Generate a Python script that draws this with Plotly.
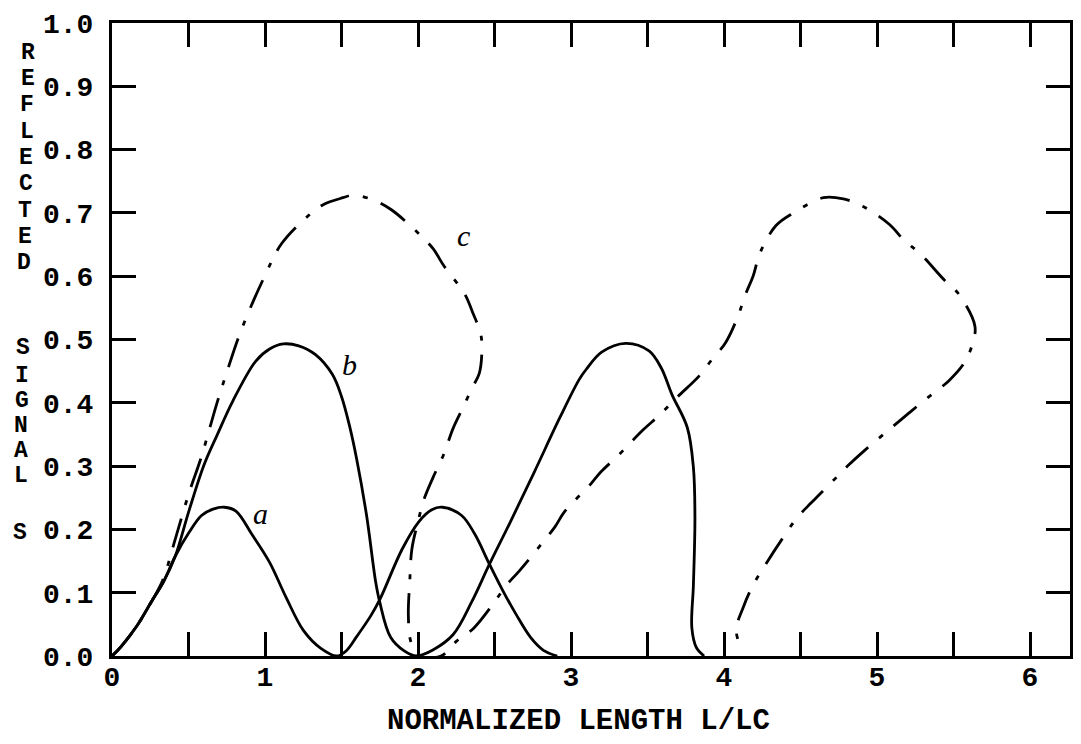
import plotly.graph_objects as go

# ---------------- data ----------------
a_x = [0, 0.058, 0.16, 0.268, 0.332, 0.414, 0.503, 0.585, 0.66, 0.735, 0.81, 0.915, 1.03,
       1.137, 1.252, 1.365, 1.47, 1.53, 1.6, 1.69, 1.75, 1.897, 2.005, 2.09, 2.16, 2.285,
       2.37, 2.467, 2.555, 2.643, 2.737, 2.82, 2.91]
a_y = [0, 0.0145, 0.0465, 0.09, 0.115, 0.158, 0.195, 0.222, 0.232, 0.235, 0.229, 0.192, 0.148,
       0.093, 0.040, 0.012, 0.0, 0.008, 0.031, 0.063, 0.089, 0.169, 0.212, 0.231, 0.235, 0.222,
       0.193, 0.145, 0.103, 0.065, 0.029, 0.009, 0.0]

b_x = [0, 0.058, 0.16, 0.268, 0.332, 0.414, 0.50, 0.60, 0.687, 0.788, 0.94, 1.03, 1.12, 1.22,
       1.33, 1.44, 1.5, 1.556, 1.6, 1.664, 1.724, 1.75, 1.82, 1.91, 1.99, 2.1, 2.23, 2.35,
       2.467, 2.6, 2.757, 2.93, 3.054, 3.1, 3.2, 3.357, 3.51, 3.59, 3.66, 3.76, 3.80, 3.81,
       3.80, 3.79, 3.82, 3.87]
b_y = [0, 0.0145, 0.0465, 0.09, 0.115, 0.158, 0.227, 0.301, 0.349, 0.402, 0.466, 0.485, 0.493,
       0.490, 0.476, 0.445, 0.41, 0.36, 0.31, 0.222, 0.116, 0.085, 0.03, 0.008, 0.0, 0.01,
       0.034, 0.085, 0.145, 0.21, 0.289, 0.378, 0.437, 0.453, 0.48, 0.494, 0.482, 0.455,
       0.413, 0.361, 0.298, 0.219, 0.112, 0.044, 0.013, 0.0]

c_x = [0, 0.058, 0.16, 0.268, 0.332, 0.414, 0.5, 0.578, 0.62, 0.684, 0.746, 0.845, 0.996,
       1.11, 1.29, 1.38, 1.51, 1.576, 1.713, 1.826, 2.01, 2.10, 2.17, 2.305, 2.36, 2.41, 2.417,
       2.40, 2.355, 2.293, 2.23, 2.167, 2.10, 2.04, 2.0, 1.96, 1.946, 1.937, 1.954, 2.006,
       2.15, 2.25, 2.364, 2.49, 2.575, 2.664, 2.81, 2.895, 2.958, 3.13, 3.196, 3.305, 3.47,
       3.58, 3.69, 3.84, 3.92, 4.01, 4.09, 4.14, 4.19, 4.236, 4.34, 4.454, 4.65, 4.78, 4.91,
       5.08, 5.18, 5.28, 5.44, 5.53, 5.64, 5.62, 5.57, 5.47, 5.30, 5.20, 5.106, 4.925, 4.816,
       4.73, 4.57, 4.476, 4.40, 4.27, 4.19, 4.126, 4.08, 4.118]
c_y = [0, 0.0145, 0.0465, 0.09, 0.12, 0.185, 0.255, 0.31, 0.344, 0.398, 0.445, 0.515, 0.599,
       0.652, 0.697, 0.713, 0.724, 0.728, 0.72, 0.705, 0.666, 0.643, 0.616, 0.572, 0.541, 0.509,
       0.478, 0.446, 0.424, 0.392, 0.36, 0.318, 0.283, 0.248, 0.212, 0.169, 0.117, 0.064, 0.022,
       0.0, 0.0, 0.023, 0.044, 0.082, 0.111, 0.135, 0.178, 0.204, 0.228, 0.272, 0.291, 0.316,
       0.357, 0.381, 0.408, 0.443, 0.468, 0.495, 0.536, 0.571, 0.60, 0.637, 0.68, 0.70, 0.724,
       0.722, 0.71, 0.682, 0.656, 0.636, 0.594, 0.573, 0.521, 0.49, 0.463, 0.435, 0.402, 0.382,
       0.363, 0.326, 0.302, 0.281, 0.242, 0.218, 0.192, 0.144, 0.112, 0.077, 0.041, 0.008]

curve_labels = ["a", "b", "c"]
curve_label_x = [0.97, 1.55, 2.30]
curve_label_y = [0.225, 0.46, 0.665]

x_tickvals = [0, 0.5, 1, 1.5, 2, 2.5, 3, 3.5, 4, 4.5, 5, 5.5, 6]
x_ticktext = ["0", "", "1", "", "2", "", "3", "", "4", "", "5", "", "6"]
y_tickvals = [0, 0.1, 0.2, 0.3, 0.4, 0.5, 0.6, 0.7, 0.8, 0.9, 1.0]
y_ticktext = ["0.0", "0.1", "0.2", "0.3", "0.4", "0.5", "0.6", "0.7", "0.8", "0.9", "1.0"]

x_title = "NORMALIZED LENGTH L/LC"
y_title_words = ["REFLECTED", "SIGNAL", "S"]

# ---------------- layout constants ----------------
# the page body adds an 8px margin, so the figure is 8px smaller and all
# screen-pixel targets are shifted by -8
OFF = 8
W, H = 1081 - OFF, 744 - OFF
L, R, T, B = 112 - OFF, 1070 - OFF, 23 - OFF, 656 - OFF
FONT = "Liberation Mono"
INK = "black"


def px2paper(px, py):
    # px, py are positions in the final screenshot
    return (px - OFF - L) / (R - L), (B - (py - OFF)) / (B - T)


fig = go.Figure()
line_style = dict(color=INK, width=2.8, shape="spline", smoothing=1.0)
fig.add_trace(go.Scatter(x=a_x, y=a_y, mode="lines", line=line_style, hoverinfo="skip"))
fig.add_trace(go.Scatter(x=b_x, y=b_y, mode="lines", line=line_style, hoverinfo="skip"))
fig.add_trace(go.Scatter(x=c_x, y=c_y, mode="lines",
                         line=dict(color=INK, width=2.8, shape="spline", smoothing=1.0,
                                   dash="30px,14px,5px,14px"),
                         hoverinfo="skip"))

annotations = []
for t, x, y in zip(curve_labels, curve_label_x, curve_label_y):
    annotations.append(dict(x=x, y=y, xref="x", yref="y", text=t, showarrow=False,
                            font=dict(family="Liberation Serif", size=30, color=INK,
                                      style="italic")))

# stacked vertical axis title (letters placed one under another)
upper_rows = [53 + 26.25 * i for i in range(len(y_title_words[0]))]
lower_rows = [348, 376, 401, 426, 451, 476]
letter_rows = list(zip(y_title_words[0], upper_rows)) + \
    list(zip(y_title_words[1], lower_rows)) + [(y_title_words[2], 533)]
for ch, py in letter_rows:
    px = 28 - 0.0175 * (py - 53)
    xp, yp = px2paper(px, py)
    annotations.append(dict(x=xp, y=yp, xref="paper", yref="paper", text=ch,
                            showarrow=False, xanchor="center", yanchor="middle",
                            borderpad=0,
                            font=dict(family=FONT, size=23, color=INK, weight="bold")))

xp, yp = px2paper(578, 721)
annotations.append(dict(x=xp, y=yp, xref="paper", yref="paper", text=x_title,
                        showarrow=False, xanchor="center", yanchor="middle",
                        font=dict(family=FONT, size=29, color=INK, weight="bold")))

axis_common = dict(showline=True, linecolor=INK, linewidth=3, mirror="ticks",
                   ticks="inside", ticklen=24, tickwidth=2.6, tickcolor=INK,
                   showgrid=False, zeroline=False, automargin=False,
                   tickfont=dict(family=FONT, size=28, color=INK, weight="bold"))

fig.update_layout(
    width=W, height=H,
    margin=dict(l=L, r=W - R, t=T, b=H - B, pad=0, autoexpand=False),
    paper_bgcolor="white", plot_bgcolor="white",
    showlegend=False,
    xaxis=dict(range=[0, (R - L) / 153.0], tickmode="array", tickvals=x_tickvals,
               ticktext=x_ticktext, ticklabelstandoff=-7, **axis_common),
    yaxis=dict(range=[0, 1.0], tickmode="array", tickvals=y_tickvals,
               ticktext=y_ticktext, ticklabelstandoff=10, **axis_common),
    annotations=annotations,
)

fig.write_html("out.html")
